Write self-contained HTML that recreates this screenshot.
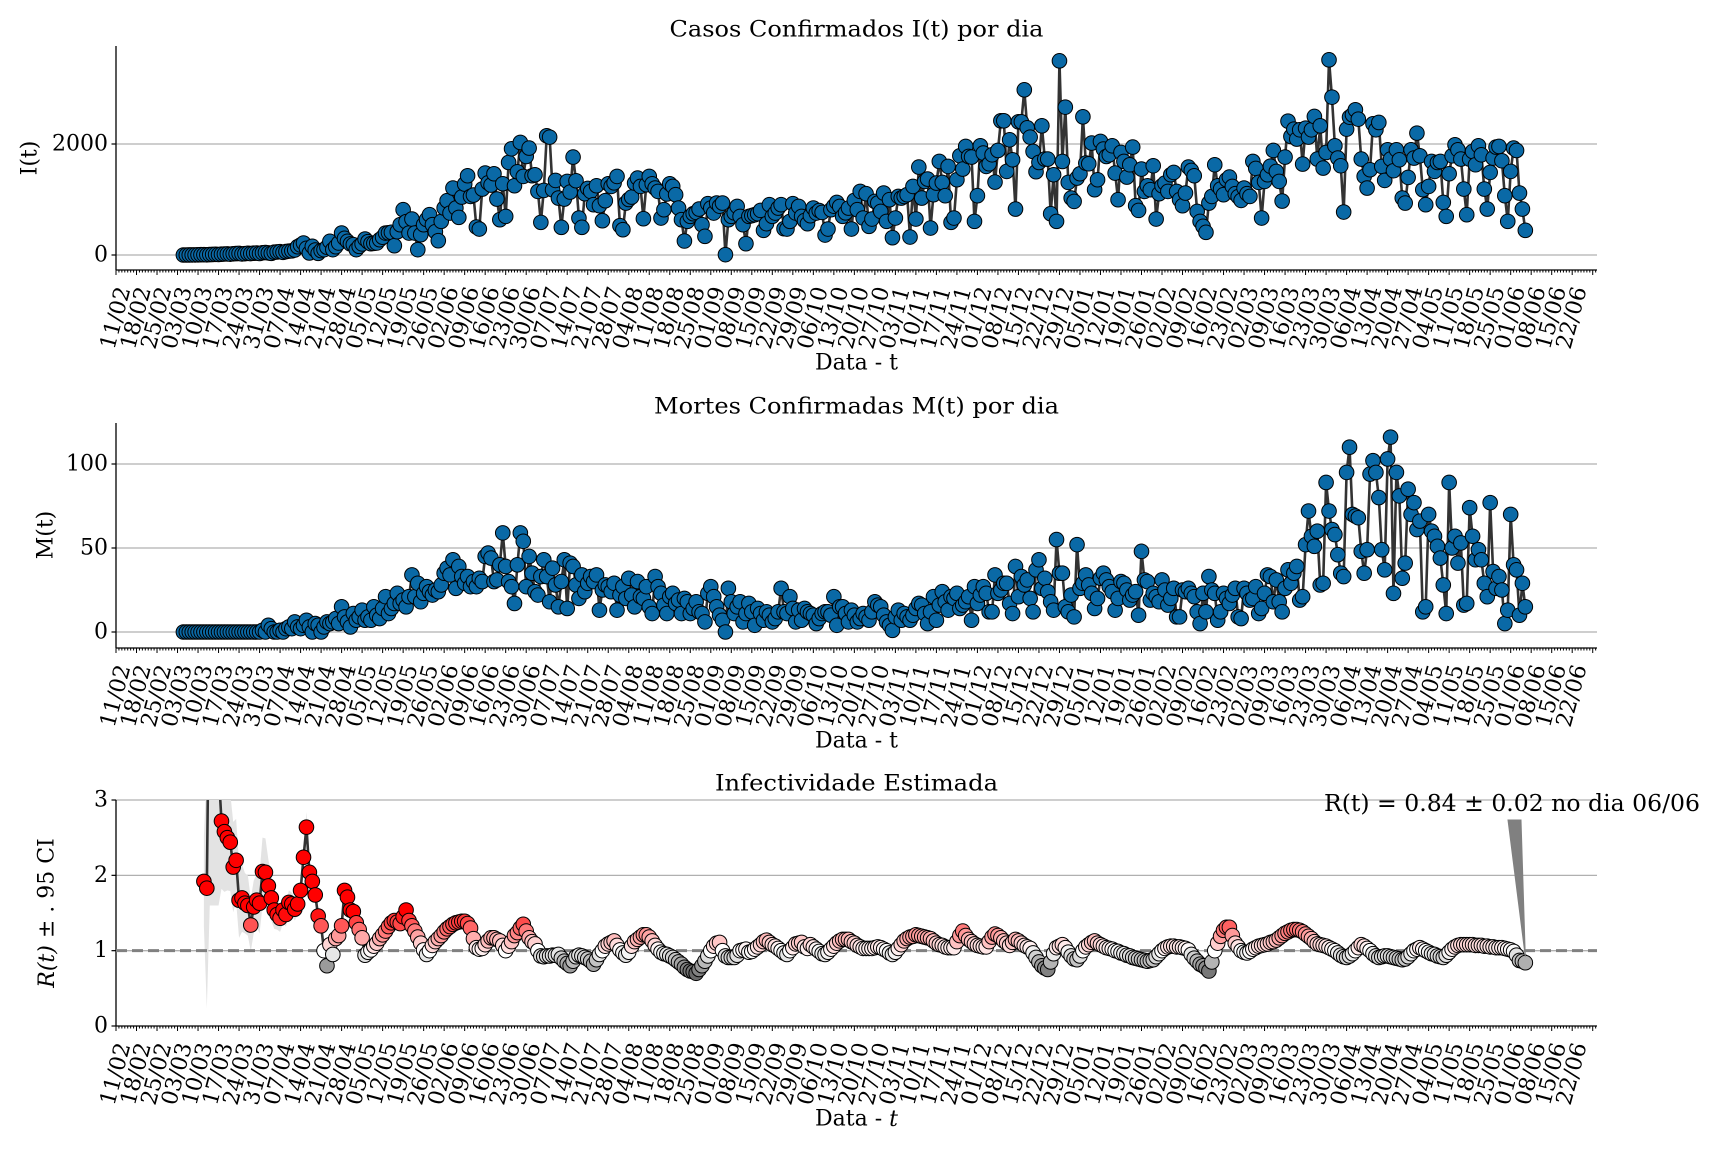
<!DOCTYPE html>
<html><head><meta charset="utf-8"><style>
html,body{margin:0;padding:0;background:#fff;}
svg{display:block;font-family:"DejaVu Serif","Liberation Serif",serif;}
</style></head><body>
<svg id="chart" width="1728" height="1152" viewBox="0 0 1728 1152" xmlns="http://www.w3.org/2000/svg">
<rect x="0" y="0" width="1728" height="1152" fill="#fff"/>
<defs>
<clipPath id="clipR"><rect x="116" y="800" width="1481" height="226"/></clipPath>
</defs>
<g id="top"></g>
<g id="mid"></g>
<g id="bot"></g>
</svg>
<script>
// ---- data (day offsets counted from 11/02/2020) ----
const casesStartDay = 23;
const cases = [
0,0,1,2,2,3,5,6,4,8, 10,12,9,14,18,20,15,22,25,28, 20,24,30,26,32,35,28,40,45,38, 30,50,55,60,48,62,70,75,90,
150,180,216,120,36,156,90,30,80,96, 140,246,96,150,216,396,300,246,200,186, 96,156,200,288,240,204,210,216,276,320,
396,400,408,168,420,546,816,600,396,648, 396,96,366,546,640,726,546,420,258,606, 846,978,756,1206,846,678,1044,1278,1428,1056,
1080,504,468,1188,1476,1300,1260,1464,1008,636, 1284,696,1668,1914,1248,1500,2028,1416,1776,1926, 1428,1446,1146,588,1164,2148,2124,1176,1344,1026,
498,1008,1326,1134,1764,1338,666,498,1104,1200, 1146,906,1248,888,618,978,1284,1236,1300,1416, 528,456,936,1000,1044,1296,1386,1236,654,1266,
1416,1284,1206,1146,666,816,1100,1284,1236,1086, 846,636,252,606,696,744,768,828,546,336, 924,846,756,936,880,936,6,636,696,760,
876,696,546,204,696,710,726,744,804,444, 564,906,696,756,846,906,474,468,606,924, 756,876,696,620,564,708,846,756,800,768,
360,468,816,880,948,876,696,760,846,468, 984,816,1146,666,1104,516,648,966,936,786, 1116,606,996,312,666,1056,1026,1056,1086,324,
1236,648,1584,1026,1326,1368,486,1086,1296,1686, 1308,1068,1596,588,666,1356,1788,1548,1956,1776, 1764,606,1068,1968,1836,1596,1644,1806,1314,1884,
2418,2418,1506,2076,1716,828,2400,2400,2976,2292, 2124,1866,1500,1668,2328,1728,1728,744,1446,606, 3498,1686,2664,1308,1026,966,1386,1464,2490,1656,
1644,2016,1176,1356,2046,1908,1776,1806,1968,1476, 996,
1848,1686,1404,1626,1944,888,804,1548,1146,1248, 1176,1608,648,1104,1248,1296,1146,1446,1488,1146, 996,888,1116,1584,1524,1428,786,606,516,408,
936,1056,1626,1248,1188,1086,1356,1404,1236,1104, 1050,984,1206,1104,1056,1686,1560,1308,666,1326, 1446,1600,1884,1506,1326,972,1764,2412,2136,2268,
2088,2256,1638,2286,2124,2256,2496,1728,2328,1566, 1848,3516,2844,1968,1746,1608,774,2268,2484,2526, 2616,2448,1728,1416,1206,1536,2364,2256,2388,1596,
1344,1896,1728,1518,1896,1716,1026,936,1398,1896, 1746,2196,1788,1176,906,1236,1686,1506,1668,1686, 948,696,1464,1788,1986,1896,1728,1188,726,1728,
1866,1626,1968,1806,1188,828,1488,1746,1944,1956, 1698,1068,606,1506,1926,1884,1116,828,444
];
const deathsStartDay = 23;
const deaths = [
0,0,0,0,0,0,0,0,0,0,0,0,0,0,0,0,0,0,0,0,0,0,0,0,0,0,0,
1,0,4,2,0,0,1,0,2,3, 2,6,3,2,4,7,3,0,5,4, 0,3,6,5,6,8,5,15,9,6, 3,11,7,9,13,7,9,7,15,10,
8,14,21,11,14,17,23,17,19,15, 21,34,21,29,18,23,27,24,22,25, 24,28,35,38,34,43,26,39,33,29, 33,27,30,27,32,30,45,47,44,30,
31,40,59,39,30,27,17,40,59,54, 27,45,35,24,22,33,43,33,18,38, 28,15,30,43,14,41,39,28,20,34, 24,29,33,30,34,13,25,28,27,24,
29,13,22,27,20,32,22,15,30,21, 20,27,15,11,33,27,23,16,11,21, 23,17,19,11,20,18,11,14,18,12, 11,6,23,27,21,15,10,7,0,26,
18,11,15,18,6,11,17,12,4,14, 11,7,12,10,6,8,12,26,12,11, 21,14,6,13,7,14,12,11,10,5, 8,11,12,12,10,21,4,15,15,11,
6,13,10,6,8,
11,9,7,12,18,16,15,10,6,4, 1,9,13,7,11,9,7,10,14,17, 16,11,5,12,21,7,16,24,18,13, 21,20,23,14,16,18,21,7,27,17,
22,27,23,12,12,34,23,25,29,29, 17,11,39,21,33,28,31,20,12,37, 43,26,32,24,18,13,55,35,35,15, 12,22,9,52,26,29,34,28,23,14,
20,32,35,31,27,24,13,20,30,29, 25,19,22,24,10,48,31,30,19,23, 21,18,31,25,16,20,26,9,9,25, 24,26,23,21,12,5,23,12,33,25,
23,7,12,23,20,17,22,26,9,8, 26,23,19,20,27,11,14,23,34,33, 18,31,18,12,26,37,29,35,39,19, 21,52,72,57,51,60,28,29,89,72,
61,58,46,35,33,95,110,70,69,68, 48,35,49,94,102,95,80,49,37,103, 116,23,95,81,32,41,85,70,77,61, 66,12,15,70,60,57,51,44,28,11,
89,50,57,41,53,16,17,74,57,43, 49,43,29,21,77,36,26,33,25,5, 13,70,40,37,10,29,15
];
const rtStartDay = 30;
const rt = [
1.92,1.83,5.5,6,4.5,3.4,2.72,2.58,2.5,2.44, 2.11,2.2,1.67,1.70,1.63,1.60,1.34,1.58,1.67,1.63,
2.05,2.04,1.86,1.70,1.54,1.48,1.43,1.54,1.48,1.64, 1.62,1.55,1.62,1.80,2.24,2.64,2.04,1.92,1.74,1.46,
1.33,1.0,0.80,1.08,0.95,1.16,1.20,1.33,1.80,1.71, 1.54,1.52,1.37,1.28,1.17,0.94,0.98,1.01,1.06,1.10,
1.16,1.21,1.26,1.32,1.37,1.40,1.38,1.36,1.45,1.54, 1.40,1.33,1.26,1.18,1.10,1.01,0.95,1.0,1.07,1.12,
1.16,1.20,1.25,1.29,1.32,1.35,1.37,1.38,1.39,1.39, 1.36,1.30,1.16,1.04,1.02,1.03,1.08,1.13,1.17,1.17,
1.15,1.13,1.07,1.0,1.06,1.12,1.20,1.24,1.30,1.35, 1.26,1.17,1.12,1.09,1.0,0.93,0.92,0.93,0.93,0.94,
0.94,0.95,0.90,0.86,0.83,0.80,0.86,0.92,0.94,0.93, 0.91,0.89,0.86,0.82,0.88,0.95,1.0,1.06,1.09,1.11,
1.13,1.07,1.01,0.97,0.94,0.98,1.06,1.12,1.15,1.18, 1.21,1.21,1.18,1.13,1.07,1.02,0.98,0.96,0.95,0.93,
0.91,0.88,0.85,0.82,0.78,0.75,0.73,0.72,0.70,0.75, 0.80,0.86,0.93,1.0,1.06,1.10,1.11,1.0,0.93,0.91,
0.91,0.91,0.94,1.0,1.01,1.02,0.98,0.99,1.02,1.05, 1.08,1.12,1.14,1.11,1.08,1.06,1.03,1.0,0.97,0.95,
1.0,1.04,1.09,1.10,1.11,1.05,1.03,1.08,1.05,1.02, 0.99,0.96,0.95,0.98,1.02,1.06,1.10,1.13,1.15,1.15,
1.15,1.12,1.10,1.07,1.05,1.03,1.03,1.03,1.03,1.04, 1.05,1.04,1.02,1.0,0.97,0.95,0.98,1.03,1.08,1.13,
1.16,1.18,1.19,1.21,1.20,1.19,1.18,1.17,1.16,1.13, 1.10,1.08,1.07,1.05,1.04,1.04,1.04,1.12,1.20,1.26,
1.20,1.15,1.12,1.09,1.07,1.06,1.05,1.05,1.12,1.18, 1.22,1.20,1.17,1.13,1.10,1.07,1.11,1.15,1.13,1.10,
1.07,1.05,1.03,0.97,0.91,0.85,0.80,0.77,0.75,0.85, 0.96,1.04,1.06,1.08,1.04,0.98,0.93,0.89,0.88,0.93,
1.0,1.05,1.08,1.11,1.13,1.10,1.08,1.06,1.04,1.03, 1.02,1.0,0.99,0.97,0.96,0.94,0.93,0.91,0.90,0.89,
0.88,0.87,0.86,0.87,0.88,0.92,0.96,1.0,1.03,1.05, 1.06,1.06,1.05,1.05,1.04,1.03,1.01,0.95,0.90,0.86,
0.82,0.80,0.77,0.73,0.85,1.0,1.10,1.19,1.27,1.31, 1.31,1.20,1.10,1.05,1.0,0.98,0.97,0.99,1.02,1.04,
1.06,1.07,1.08,1.09,1.11,1.12,1.14,1.17,1.20,1.23, 1.25,1.27,1.28,1.28,1.27,1.25,1.22,1.19,1.16,1.12,
1.09,1.08,1.07,1.06,1.04,1.02,1.0,0.97,0.94,0.92, 0.91,0.93,0.96,1.0,1.04,1.08,1.06,1.03,1.0,0.96,
0.93,0.91,0.92,0.93,0.93,0.92,0.91,0.90,0.89,0.88, 0.89,0.92,0.96,1.0,1.02,1.04,1.02,1.0,0.98,0.96,
0.95,0.93,0.92,0.91,0.94,0.98,1.02,1.05,1.07,1.08, 1.08,1.08,1.08,1.08,1.07,1.07,1.07,1.06,1.06,1.05,
1.05,1.04,1.04,1.04,1.03,1.02,1.01,0.99,0.94,0.87, 0.86,0.84
];
const rtCiHalf = [
0.6,1.6,3.9,4.4,2.9,1.8,0.9,0.8,0.7,0.65, 0.6,0.55,0.5,0.45,0.4,0.4,0.35,0.35,0.35,0.4,
0.45,0.45,0.35,0.3,0.25,0.2,0.18,0.18,0.16,0.16, 0.15,0.15,0.15,0.16,0.18,0.2,0.15,0.12,0.1,0.08, 0.07,0.06,0.06
];
const casesTicks = [0, 2000];
const deathsTicks = [0, 50, 100];
const rtTicks = [0, 1, 2, 3];
const annotationText = "R(t) = 0.84 ± 0.02 no dia 06/06";

// ---- axis functions ----
const NS = "http://www.w3.org/2000/svg";
const X0 = 116, X1 = 1597, PXDAY = 2.93;
const xDay = d => X0 + d * PXDAY;
const yCases = v => 255 - v * 0.0555;
const yDeaths = v => 632 - v * 1.68;
const yRt = v => 1026 - v * 75.33;

function el(tag, attrs, parent) {
  const e = document.createElementNS(NS, tag);
  for (const k in attrs) e.setAttribute(k, attrs[k]);
  parent.appendChild(e);
  return e;
}

function axes(g, top, bottom, yFn, ticks, title, titleLen, ylabel, ylabelX, italicT) {
  // gridlines
  ticks.forEach(t => {
    const y = yFn(t);
    if (Math.abs(y - bottom) > 1) {
      const gl = el('line', {x1: X0, x2: X1, y1: y, y2: y, stroke: '#b0b0b0', 'stroke-width': 1.3}, g);
      
      
    }
    const tk = el('line', {x1: X0 - 4.5, x2: X0, y1: y, y2: y, stroke: '#000', 'stroke-width': 1.2}, g);
    
    
    const tl = el('text', {x: X0 - 8, y: y, 'text-anchor': 'end', 'dominant-baseline': 'central', 'font-size': 22, fill: '#000'}, g);
    tl.textContent = String(t);
    
    
  });
  // spines
  const sl = el('line', {x1: X0, x2: X0, y1: top, y2: bottom, stroke: '#000', 'stroke-width': 1.3}, g);
  
  
  const sb = el('line', {x1: X0, x2: X1, y1: bottom, y2: bottom, stroke: '#000', 'stroke-width': 1.3}, g);
  
  
  // x ticks
  let minor = '';
  for (let d = 0; d <= 505; d++) {
    const x = xDay(d);
    const len = (d % 7 === 0) ? 5 : 2.5;
    minor += `M${x.toFixed(2)},${bottom}v${len}`;
  }
  const tp = el('path', {d: minor, stroke: '#000', 'stroke-width': 1, fill: 'none'}, g);
  
  
  const start = Date.UTC(2020, 1, 11);
  for (let k = 0; k * 7 <= 500; k++) {
    const dt = new Date(start + k * 7 * 86400000);
    const lab = String(dt.getUTCDate()).padStart(2, '0') + '/' + String(dt.getUTCMonth() + 1).padStart(2, '0');
    const x = xDay(k * 7), y = bottom + 48;
    const t = el('text', {transform: `translate(${x.toFixed(2)},${y}) rotate(-75)`, 'text-anchor': 'middle', 'dominant-baseline': 'central', 'font-size': 22, fill: '#000'}, g);
    t.textContent = lab;
    
    
  }
  // x label
  const xl = el('text', {x: (X0 + X1) / 2, y: bottom + 93, 'text-anchor': 'middle', 'dominant-baseline': 'central', 'font-size': 22}, g);
  
  
  if (italicT) {
    xl.appendChild(document.createTextNode('Data - '));
    const ts = el('tspan', {'font-style': 'italic'}, xl); ts.textContent = 't';
  } else xl.textContent = 'Data - t';
  // title
  const tt = el('text', {x: (X0 + X1) / 2, y: top - 16, 'text-anchor': 'middle', 'dominant-baseline': 'central', 'font-size': 22, textLength: titleLen, lengthAdjust: 'spacingAndGlyphs'}, g);
  tt.textContent = title;
  
  
  return {ylabelX};
}

function series(g, startDay, vals, yFn, colorFn, clip) {
  const gg = el('g', clip ? {'clip-path': 'url(#clipR)'} : {}, g);
  let d = '';
  vals.forEach((v, i) => { d += (i ? 'L' : 'M') + xDay(startDay + i).toFixed(2) + ',' + yFn(v).toFixed(2); });
  const p = el('path', {d: d, fill: 'none', stroke: '#333', 'stroke-width': 2.6, 'stroke-linejoin': 'round'}, gg);
  
  
  vals.forEach((v, i) => {
    const c = el('circle', {cx: xDay(startDay + i).toFixed(2), cy: yFn(v).toFixed(2), r: 7.3, fill: colorFn(v), stroke: '#000', 'stroke-width': 1}, gg);
    
    
  });
}

const blue = () => '#0a69a6';
function rtColor(r) {
  if (r >= 1) {
    const t = Math.min((r - 1) / 0.5, 1);
    const gb = Math.round(255 * (1 - t));
    return `rgb(255,${gb},${gb})`;
  }
  const t = Math.min((1 - r) / 0.3, 1);
  const v = Math.round(255 - 150 * t);
  return `rgb(${v},${v},${v})`;
}

// ---- top panel ----
const gTop = document.getElementById('top');
axes(gTop, 46, 270, yCases, casesTicks, 'Casos Confirmados I(t) por dia', 374);
const ylTop = el('text', {transform: 'translate(30,158) rotate(-90)', 'text-anchor': 'middle', 'dominant-baseline': 'central', 'font-size': 22}, gTop);
ylTop.textContent = 'I(t)';


series(gTop, casesStartDay, cases, yCases, blue, false);

// ---- middle panel ----
const gMid = document.getElementById('mid');
axes(gMid, 423, 648, yDeaths, deathsTicks, 'Mortes Confirmadas M(t) por dia', 405);
const ylMid = el('text', {transform: 'translate(46,535) rotate(-90)', 'text-anchor': 'middle', 'dominant-baseline': 'central', 'font-size': 22}, gMid);
ylMid.textContent = 'M(t)';


series(gMid, deathsStartDay, deaths, yDeaths, blue, false);

// ---- bottom panel ----
const gBot = document.getElementById('bot');
axes(gBot, 800, 1026, yRt, rtTicks, 'Infectividade Estimada', 283, null, null, true);
const ylBot = el('text', {transform: 'translate(47,913) rotate(-90)', 'text-anchor': 'middle', 'dominant-baseline': 'central', 'font-size': 22}, gBot);


const ri = el('tspan', {'font-style': 'italic'}, ylBot); ri.textContent = 'R(t)';
ylBot.appendChild(document.createTextNode(' ± . 95 CI'));
// CI band
const bandG = el('g', {'clip-path': 'url(#clipR)'}, gBot);
let up = '', lo = '';
rtCiHalf.forEach((h, i) => {
  const x = xDay(rtStartDay + i).toFixed(2);
  up += (i ? 'L' : 'M') + x + ',' + yRt(rt[i] + h).toFixed(2);
});
for (let i = rtCiHalf.length - 1; i >= 0; i--) {
  lo += 'L' + xDay(rtStartDay + i).toFixed(2) + ',' + yRt(Math.max(rt[i] - rtCiHalf[i], 0)).toFixed(2);
}
const band = el('path', {d: up + lo + 'Z', fill: '#e3e3e3', stroke: 'none'}, bandG);


// threshold line
const th = el('line', {x1: X0, x2: X1, y1: yRt(1), y2: yRt(1), stroke: '#808080', 'stroke-width': 3, 'stroke-dasharray': '11,5'}, gBot);


series(gBot, rtStartDay, rt, yRt, rtColor, true);
// annotation
const lastX = xDay(rtStartDay + rt.length - 1), lastY = yRt(rt[rt.length - 1]);
const arr = el('polygon', {points: `1508,820 1521,820 ${lastX.toFixed(1)},${(lastY - 6).toFixed(1)}`, fill: '#808080', stroke: '#808080', 'stroke-width': 1}, gBot);


const an = el('text', {x: 1324, y: 811, 'font-size': 23, textLength: 376, lengthAdjust: 'spacingAndGlyphs'}, gBot);
an.textContent = annotationText;


</script>
</body></html>
